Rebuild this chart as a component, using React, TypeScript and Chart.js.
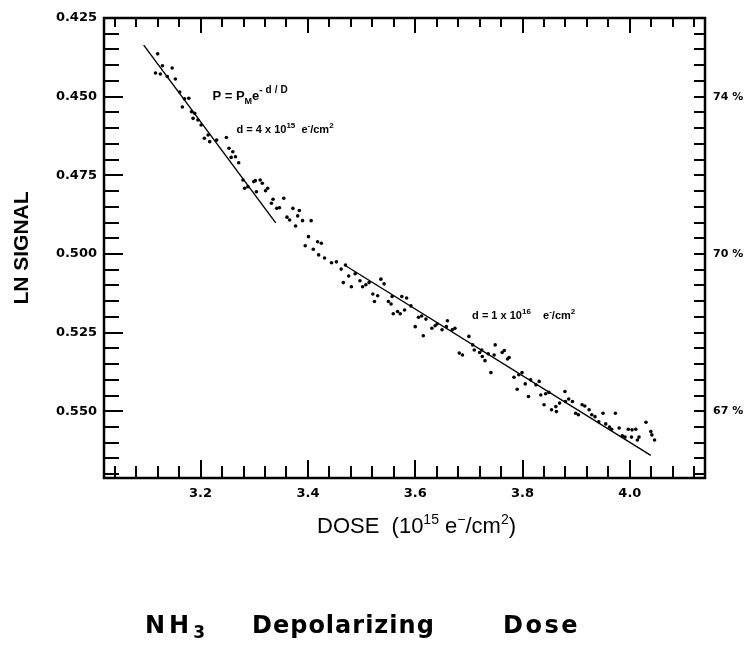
import React, { useEffect, useRef } from "react";
import { Chart, registerables } from "chart.js";

Chart.register(...registerables);

// ---------- data ----------
const DOSE = [
  3.116, 3.120, 3.125, 3.129, 3.138, 3.147, 3.153, 3.161, 3.166, 3.170,
  3.178, 3.183, 3.189, 3.186, 3.195, 3.201, 3.207, 3.214, 3.217, 3.230,
  3.248, 3.253, 3.260, 3.257, 3.265, 3.271, 3.279, 3.282, 3.288, 3.299,
  3.302, 3.311, 3.315, 3.304, 3.321, 3.325, 3.332, 3.335, 3.342, 3.347,
  3.355, 3.361, 3.366, 3.372, 3.381, 3.384, 3.390, 3.377, 3.406, 3.401,
  3.418, 3.425, 3.395, 3.410, 3.420, 3.431, 3.444, 3.453, 3.462, 3.470,
  3.466, 3.476, 3.481, 3.488, 3.497, 3.502, 3.508, 3.514, 3.521, 3.524,
  3.530, 3.536, 3.542, 3.550, 3.555, 3.557, 3.559, 3.567, 3.572, 3.575,
  3.580, 3.584, 3.592, 3.600, 3.606, 3.612, 3.620, 3.615, 3.631, 3.637,
  3.641, 3.650, 3.660, 3.658, 3.669, 3.674, 3.682, 3.688, 3.700, 3.707,
  3.710, 3.720, 3.724, 3.725, 3.730, 3.736, 3.747, 3.749, 3.762, 3.766,
  3.772, 3.775, 3.741, 3.784, 3.793, 3.799, 3.790, 3.805, 3.815, 3.811,
  3.825, 3.834, 3.843, 3.849, 3.840, 3.854, 3.862, 3.869, 3.880, 3.831,
  3.863, 3.879, 3.886, 3.893, 3.899, 3.904, 3.911, 3.916, 3.924, 3.929,
  3.935, 3.942, 3.950, 3.955, 3.962, 3.966, 3.973, 3.980, 3.986, 3.991,
  3.997, 4.004, 4.011, 4.003, 4.014, 4.017, 4.030, 4.039, 4.041, 4.046,
];
const LN_SIGNAL = [
  0.4425, 0.4364, 0.4428, 0.4402, 0.4436, 0.4409, 0.4444, 0.4485, 0.4533, 0.4507,
  0.4505, 0.4548, 0.4553, 0.4569, 0.4574, 0.4590, 0.4632, 0.4622, 0.4643, 0.4638,
  0.4630, 0.4664, 0.4675, 0.4693, 0.4691, 0.4710, 0.4765, 0.4791, 0.4786, 0.4770,
  0.4767, 0.4765, 0.4775, 0.4802, 0.4799, 0.4791, 0.4839, 0.4826, 0.4855, 0.4853,
  0.4823, 0.4883, 0.4892, 0.4855, 0.4879, 0.4862, 0.4894, 0.4911, 0.4894, 0.4945,
  0.4961, 0.4966, 0.4974, 0.4985, 0.5003, 0.5013, 0.5028, 0.5025, 0.5048, 0.5035,
  0.5091, 0.5070, 0.5104, 0.5063, 0.5085, 0.5104, 0.5098, 0.5091, 0.5127, 0.5151,
  0.5133, 0.5080, 0.5095, 0.5151, 0.5159, 0.5135, 0.5190, 0.5183, 0.5190, 0.5135,
  0.5178, 0.5140, 0.5165, 0.5231, 0.5201, 0.5197, 0.5207, 0.5260, 0.5236, 0.5228,
  0.5222, 0.5241, 0.5212, 0.5231, 0.5241, 0.5236, 0.5315, 0.5321, 0.5262, 0.5289,
  0.5305, 0.5313, 0.5305, 0.5326, 0.5339, 0.5317, 0.5321, 0.5289, 0.5313, 0.5307,
  0.5334, 0.5329, 0.5377, 0.5392, 0.5384, 0.5377, 0.5430, 0.5413, 0.5400, 0.5453,
  0.5416, 0.5448, 0.5444, 0.5440, 0.5479, 0.5495, 0.5485, 0.5474, 0.5469, 0.5405,
  0.5501, 0.5437, 0.5461, 0.5469, 0.5506, 0.5511, 0.5479, 0.5483, 0.5495, 0.5511,
  0.5517, 0.5533, 0.5506, 0.5540, 0.5550, 0.5557, 0.5506, 0.5553, 0.5578, 0.5582,
  0.5557, 0.5559, 0.5557, 0.5582, 0.5591, 0.5582, 0.5535, 0.5564, 0.5575, 0.5591,
];

// fitted lines (end points)
const FIT1_DOSE = [3.094, 3.340];
const FIT1_SIGNAL = [0.4336, 0.4901];
const FIT2_DOSE = [3.468, 4.039];
const FIT2_SIGNAL = [0.5035, 0.5640];

// axes
const X_MIN = 3.02;
const X_MAX = 4.14;
const Y_MIN = 0.425;
const Y_MAX = 0.5712;
const X_LABEL_TICKS = [3.2, 3.4, 3.6, 3.8, 4.0];
const X_MINOR_TICKS = [
  3.04, 3.08, 3.12, 3.16, 3.2, 3.24, 3.28, 3.32, 3.36, 3.4, 3.44, 3.48, 3.52, 3.56,
  3.6, 3.64, 3.68, 3.72, 3.76, 3.8, 3.84, 3.88, 3.92, 3.96, 4.0, 4.04, 4.08, 4.12,
];
const Y_LABEL_TICKS = [0.425, 0.45, 0.475, 0.5, 0.525, 0.55];
const Y_MINOR_TICKS = [
  0.43, 0.435, 0.44, 0.445, 0.45, 0.455, 0.46, 0.465, 0.47, 0.475, 0.48, 0.485,
  0.49, 0.495, 0.5, 0.505, 0.51, 0.515, 0.52, 0.525, 0.53, 0.535, 0.54, 0.545,
  0.55, 0.555, 0.56, 0.565, 0.57,
];
const RIGHT_TICKS = [0.45, 0.5, 0.55];
const RIGHT_LABELS = ["74 %", "70 %", "67 %"];

const Y_TITLE = "LN SIGNAL";
const CAPTION_WORDS = ["NH", "3", "Depolarizing", "Dose"];

const FAMILY = "'Liberation Sans', Arial, sans-serif";
const DJ = "'DejaVu Sans', sans-serif";

type Run = { t: string; size: number; dy?: number; weight?: string; family?: string; ls?: number };

function runsWidth(ctx: CanvasRenderingContext2D, runs: Run[]) {
  let w = 0;
  for (const r of runs) {
    ctx.font = `${r.weight ?? "bold"} ${r.size}px ${r.family ?? FAMILY}`;
    (ctx as any).letterSpacing = `${r.ls ?? 0}px`;
    w += ctx.measureText(r.t).width;
  }
  (ctx as any).letterSpacing = "0px";
  return w;
}

function drawRuns(ctx: CanvasRenderingContext2D, runs: Run[], x: number, y: number) {
  let cx = x;
  ctx.textBaseline = "alphabetic";
  ctx.textAlign = "left";
  for (const r of runs) {
    ctx.font = `${r.weight ?? "bold"} ${r.size}px ${r.family ?? FAMILY}`;
    (ctx as any).letterSpacing = `${r.ls ?? 0}px`;
    ctx.fillText(r.t, cx, y + (r.dy ?? 0));
    cx += ctx.measureText(r.t).width;
  }
  (ctx as any).letterSpacing = "0px";
  return cx;
}

const framePlugin = {
  id: "frameTicks",
  afterDraw(chart: any) {
    const { ctx, chartArea } = chart;
    const { left, right, top, bottom } = chartArea;
    const xs = chart.scales.x;
    const ys = chart.scales.y;
    ctx.save();
    ctx.strokeStyle = "#000";
    ctx.lineCap = "butt";
    ctx.lineWidth = 2;
    ctx.beginPath();
    for (const v of X_MINOR_TICKS) {
      const px = Math.round(xs.getPixelForValue(v));
      const major = X_LABEL_TICKS.some((m) => Math.abs(m - v) < 1e-6);
      ctx.moveTo(px, bottom);
      ctx.lineTo(px, bottom - (major ? 18 : 12));
      ctx.moveTo(px, top);
      ctx.lineTo(px, top + (major ? 15 : 9));
    }
    for (const v of Y_MINOR_TICKS) {
      const py = Math.round(ys.getPixelForValue(v));
      const major = Y_LABEL_TICKS.some((m) => Math.abs(m - v) < 1e-6);
      ctx.moveTo(left, py);
      ctx.lineTo(left + (major ? 19 : 15), py);
      ctx.moveTo(right, py);
      ctx.lineTo(right - 11, py);
    }
    ctx.stroke();
    ctx.lineWidth = 2.5;
    ctx.strokeRect(left, top, right - left, bottom - top);

    ctx.fillStyle = "#000";
    // annotations in the plot
    const p1x = xs.getPixelForValue(3.222);
    const p1y = ys.getPixelForValue(0.451);
    drawRuns(ctx, [
      { t: "P = P", size: 13 },
      { t: "M", size: 9, dy: 4 },
      { t: "e", size: 13 },
      { t: "-d/D", size: 10, dy: -7, ls: 3 },
    ], p1x, p1y);
    const p2x = xs.getPixelForValue(3.267);
    const p2y = ys.getPixelForValue(0.4615);
    drawRuns(ctx, [
      { t: "d = 4 x 10", size: 11 },
      { t: "15", size: 8, dy: -5 },
      { t: "  e", size: 11 },
      { t: "-", size: 8, dy: -5 },
      { t: "/cm", size: 11 },
      { t: "2", size: 8, dy: -5 },
    ], p2x, p2y);
    const p3x = xs.getPixelForValue(3.706);
    const p3y = ys.getPixelForValue(0.5206);
    drawRuns(ctx, [
      { t: "d = 1 x 10", size: 11 },
      { t: "16", size: 8, dy: -5 },
      { t: "    e", size: 11 },
      { t: "-", size: 8, dy: -5 },
      { t: "/cm", size: 11 },
      { t: "2", size: 8, dy: -5 },
    ], p3x, p3y);

    // x-axis title
    const xt: Run[] = [
      { t: "DOSE  (10", size: 22, weight: "normal" },
      { t: "15", size: 14, dy: -9, weight: "normal" },
      { t: " e", size: 22, weight: "normal" },
      { t: "\u2212", size: 14, dy: -9, weight: "normal" },
      { t: "/cm", size: 22, weight: "normal" },
      { t: "2", size: 14, dy: -9, weight: "normal" },
      { t: ")", size: 22, weight: "normal" },
    ];
    const xtw = runsWidth(ctx, xt);
    drawRuns(ctx, xt, (left + right) / 2 + 12 - xtw / 2, 533);

    // caption
    const capY = 633;
    drawRuns(ctx, [
      { t: CAPTION_WORDS[0], size: 24, family: DJ, ls: 4 },
      { t: CAPTION_WORDS[1], size: 17, dy: 5, family: DJ },
    ], 145, capY);
    drawRuns(ctx, [{ t: CAPTION_WORDS[2], size: 24, family: DJ, ls: 1 }], 252, capY);
    drawRuns(ctx, [{ t: CAPTION_WORDS[3], size: 24, family: DJ, ls: 2.5 }], 503, capY);
    ctx.restore();
  },
};

export default function App() {
  const ref = useRef<HTMLCanvasElement>(null);
  useEffect(() => {
    const canvas = ref.current!;
    const points = DOSE.map((d, i) => ({ x: d, y: LN_SIGNAL[i] }));
    const fit1 = FIT1_DOSE.map((d, i) => ({ x: d, y: FIT1_SIGNAL[i] }));
    const fit2 = FIT2_DOSE.map((d, i) => ({ x: d, y: FIT2_SIGNAL[i] }));
    const tickFont = { family: DJ, weight: "bold" as const, size: 13 };
    const chart = new Chart(canvas, {
      type: "scatter",
      data: {
        datasets: [
          {
            label: "LN signal",
            data: points,
            pointRadius: 1.8,
            pointBackgroundColor: "#000",
            pointBorderWidth: 0,
            showLine: false,
          },
          {
            label: "fit 1",
            data: fit1,
            showLine: true,
            borderColor: "#000",
            borderWidth: 1.4,
            pointRadius: 0,
          },
          {
            label: "fit 2",
            data: fit2,
            showLine: true,
            borderColor: "#000",
            borderWidth: 1.4,
            pointRadius: 0,
          },
        ],
      },
      options: {
        animation: false,
        responsive: false,
        devicePixelRatio: 1,
        layout: { padding: { top: 18, left: 0, right: 0, bottom: 0 } },
        plugins: {
          legend: { display: false },
          tooltip: { enabled: false },
        },
        scales: {
          x: {
            type: "linear",
            position: "bottom",
            min: X_MIN,
            max: X_MAX,
            grid: { display: false, drawTicks: false },
            border: { display: false },
            ticks: {
              font: tickFont,
              color: "#000",
              padding: 8,
              maxRotation: 0,
              callback: (v: any) => Number(v).toFixed(1),
            },
            afterBuildTicks: (s: any) => {
              s.ticks = X_LABEL_TICKS.map((v) => ({ value: v }));
            },
            afterFit: (s: any) => {
              s.height = 167;
            },
          },
          y: {
            type: "linear",
            position: "left",
            reverse: true,
            min: Y_MIN,
            max: Y_MAX,
            grid: { display: false, drawTicks: false },
            border: { display: false },
            ticks: {
              font: tickFont,
              color: "#000",
              padding: 7,
              callback: (v: any) => Number(v).toFixed(3),
            },
            title: {
              display: true,
              text: Y_TITLE,
              color: "#000",
              font: { family: FAMILY, weight: "bold", size: 21 },
              padding: { top: 10, bottom: 0 },
            },
            afterBuildTicks: (s: any) => {
              s.ticks = Y_LABEL_TICKS.map((v) => ({ value: v }));
            },
            afterFit: (s: any) => {
              s.width = 104;
            },
          },
          y2: {
            type: "linear",
            position: "right",
            reverse: true,
            min: Y_MIN,
            max: Y_MAX,
            grid: { display: false, drawTicks: false },
            border: { display: false },
            ticks: {
              font: { family: DJ, weight: "bold", size: 11 },
              color: "#000",
              padding: 8,
              callback: (v: any) => {
                const i = RIGHT_TICKS.findIndex((r) => Math.abs(r - Number(v)) < 1e-6);
                return i >= 0 ? RIGHT_LABELS[i] : "";
              },
            },
            afterBuildTicks: (s: any) => {
              s.ticks = RIGHT_TICKS.map((v) => ({ value: v }));
            },
            afterFit: (s: any) => {
              s.width = 39;
            },
          },
        },
      },
      plugins: [framePlugin],
    } as any);
    return () => chart.destroy();
  }, []);
  return (
    <div style={{ position: "fixed", left: 0, top: 0, width: 744, height: 645, background: "#fff" }}>
      <canvas ref={ref} width={744} height={645} style={{ display: "block" }} />
    </div>
  );
}
